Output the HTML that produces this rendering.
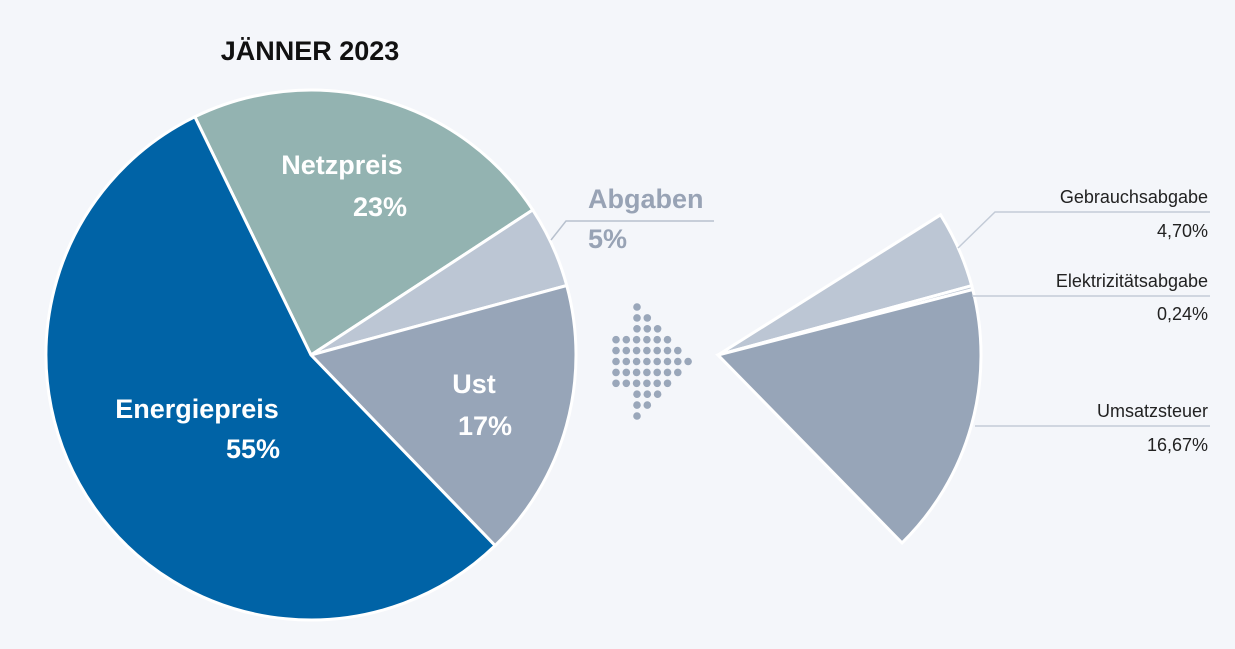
<!DOCTYPE html>
<html><head><meta charset="utf-8"><style>
body{margin:0;background:#f4f6fa;}
svg{display:block;font-family:"Liberation Sans",sans-serif;}
</style></head><body>
<svg id="c" width="1235" height="649" viewBox="0 0 1235 649">
<rect width="1235" height="649" fill="#f4f6fa"/>
<text x="310" y="60" text-anchor="middle" font-size="27" font-weight="bold" fill="#111">JÄNNER 2023</text>
<g id="main"></g>
<g id="sub"></g>
<g id="dots" fill="#9aa7ba"></g>
<polyline points="551,240 566,221 714,221" fill="none" stroke="#b8c1ce" stroke-width="1.5"/>
<text x="588" y="208" font-size="27" font-weight="bold" fill="#98a3b5">Abgaben</text>
<text x="588" y="248" font-size="27" font-weight="bold" fill="#98a3b5">5%</text>
<text x="342" y="174" text-anchor="middle" font-size="27" font-weight="bold" fill="#fff">Netzpreis</text>
<text x="407" y="216" text-anchor="end" font-size="27" font-weight="bold" fill="#fff">23%</text>
<text x="474" y="393" text-anchor="middle" font-size="27" font-weight="bold" fill="#fff">Ust</text>
<text x="485" y="435" text-anchor="middle" font-size="27" font-weight="bold" fill="#fff">17%</text>
<text x="197" y="418" text-anchor="middle" font-size="27" font-weight="bold" fill="#fff">Energiepreis</text>
<text x="280" y="458" text-anchor="end" font-size="27" font-weight="bold" fill="#fff">55%</text>
<g stroke="#c3cbd7" stroke-width="1.5" fill="none">
<polyline points="958,248 995,212 1210,212"/>
<line x1="972" y1="296" x2="1210" y2="296"/>
<line x1="975" y1="426" x2="1210" y2="426"/>
</g>
<g font-size="18" fill="#222" text-anchor="end">
<text x="1208" y="203">Gebrauchsabgabe</text>
<text x="1208" y="237">4,70%</text>
<text x="1208" y="287">Elektrizitätsabgabe</text>
<text x="1208" y="320">0,24%</text>
<text x="1208" y="417">Umsatzsteuer</text>
<text x="1208" y="451">16,67%</text>
</g>
</svg>
<script>
const categories=["Netzpreis","Abgaben","Ust","Energiepreis"];
const values=[23,5,17,55];
const subCategories=["Gebrauchsabgabe","Elektrizitätsabgabe","Umsatzsteuer"];
const subValues=[4.70,0.24,16.67];
const colors=["#93b3b1","#bcc6d4","#97a5b8","#0063a6"];
const subColors=["#bcc6d4","#bcc6d4","#97a5b8"];
const NS="http://www.w3.org/2000/svg";
const startAngle=-26;
function pt(cx,cy,r,a){const t=a*Math.PI/180;return [cx+r*Math.sin(t),cy-r*Math.cos(t)];}
function arc(cx,cy,r,a0,a1){const p0=pt(cx,cy,r,a0),p1=pt(cx,cy,r,a1);const large=(a1-a0)>180?1:0;
return `M${cx},${cy}L${p0[0]},${p0[1]}A${r},${r} 0 ${large} 1 ${p1[0]},${p1[1]}Z`;}
const total=values.reduce((a,b)=>a+b,0);
let a=startAngle;
const main=document.getElementById('main');
values.forEach((v,i)=>{const a1=a+v/total*360;const p=document.createElementNS(NS,'path');
p.setAttribute('d',arc(311,355,265,a,a1));p.setAttribute('fill',colors[i]);p.setAttribute('stroke','#fff');p.setAttribute('stroke-width','3');


main.appendChild(p);a=a1;});
// sub pie, same scale as main pie, starting at Abgaben start
let s=startAngle+values[0]/total*360+1;
const sub=document.getElementById('sub');
subValues.forEach((v,i)=>{const a1=s+v/total*360;const p=document.createElementNS(NS,'path');
p.setAttribute('d',arc(718,355,263,s,a1));p.setAttribute('fill',subColors[i]);p.setAttribute('stroke','#fff');p.setAttribute('stroke-width','3');


sub.appendChild(p);s=a1;});
const rows=[1,2,3,6,7,8,7,6,3,2,1];
const dots=document.getElementById('dots');
rows.forEach((n,r)=>{const x0=n<=3?637:616;for(let k=0;k<n;k++){const c=document.createElementNS(NS,'circle');
c.setAttribute('cx',x0+k*10.3);c.setAttribute('cy',307+r*10.9);c.setAttribute('r',3.8);


dots.appendChild(c);}});
</script>
</body></html>
